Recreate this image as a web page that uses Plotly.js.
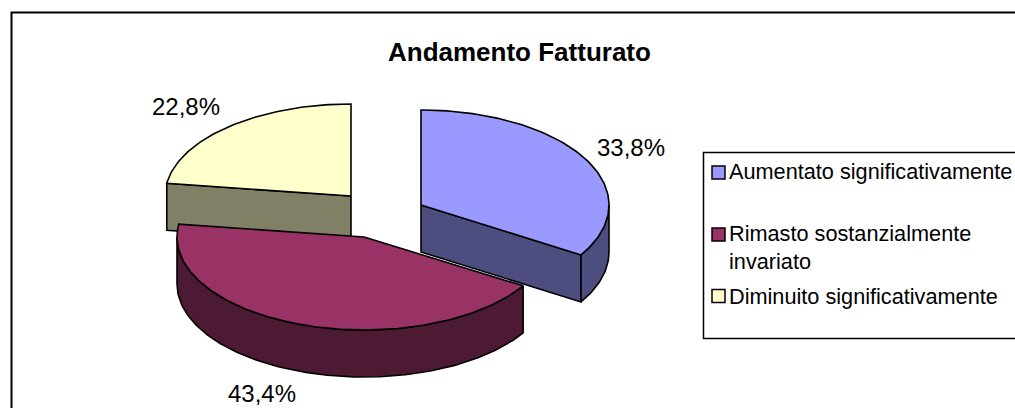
<!DOCTYPE html>
<html>
<head>
<meta charset="utf-8">
<script src="https://cdn.plot.ly/plotly-3.0.1.min.js"></script>
<style>html,body{margin:0;padding:0;background:#fff}#c{width:1015px;height:408px}</style>
</head>
<body>
<div id="c"></div>
<script>
const categories = ["Aumentato significativamente", "Rimasto sostanzialmente<br>invariato", "Diminuito significativamente"];
const values = [33.8, 43.4, 22.8];
const topColors = ["#9999FF", "#993366", "#FFFFCC"];
const sideColors = ["#4D4D80", "#4D1A33", "#808066"];
const chartTitle = "Andamento Fatturato";

const FONT = "Liberation Sans, Arial, sans-serif";
const DEPTH = 47;
// Exploded slice centres and ellipse radii, in page-pixel axis units
const geom = [
  {cx: 421, cy: 205, a: 188, b: 95, lx: 630.5, ly: 147},
  {cx: 364, cy: 237, a: 187, b: 93, lx: 262, ly: 393.5},
  {cx: 351, cy: 196, a: 186, b: 92, lx: 185.5, ly: 106}
];
const swatchY = [172.5, 234.5, 296];
const legendTextY = [171, 247.5, 296];

const total = values.reduce((s, v) => s + v, 0);
let acc = 0;
const slices = values.map((v, i) => {
  const t0 = acc / total * 2 * Math.PI;
  acc += v;
  return Object.assign({t0, t1: acc / total * 2 * Math.PI, i}, geom[i]);
});
const pt = (s, t, dy) => [s.cx + s.a * Math.sin(t), s.cy - s.b * Math.cos(t) + (dy || 0)];
function arc(s, from, to, dy) {
  const n = Math.max(2, Math.ceil(Math.abs(to - from) / 0.02));
  const out = [];
  for (let k = 0; k <= n; k++) out.push(pt(s, from + (to - from) * k / n, dy));
  return out;
}
function poly(points, fill, name) {
  return {
    type: "scatter", mode: "lines", x: points.map(p => p[0]), y: points.map(p => p[1]),
    fill: "toself", fillcolor: fill, line: {color: "#000", width: 1.6, shape: "linear"},
    hoverinfo: "skip", showlegend: false, name
  };
}
function sliceTraces(s) {
  const out = [];
  const apex = [s.cx, s.cy];
  const apexLow = [s.cx, s.cy + DEPTH];
  const side = sideColors[s.i];
  // radial cut walls facing the viewer
  [s.t0, s.t1].forEach(t => {
    const onRight = Math.sin(t) > 0;
    const facing = (t === s.t1 && onRight) || (t === s.t0 && !onRight);
    if (facing && t > 1e-6 && t < 2 * Math.PI - 1e-6) {
      const e = pt(s, t), el = pt(s, t, DEPTH);
      out.push(poly([apex, e, el, apexLow, apex], side));
    }
  });
  // curved outer wall on the front half
  const from = Math.max(s.t0, Math.PI / 2), to = Math.min(s.t1, 3 * Math.PI / 2);
  if (to > from) {
    const upper = arc(s, from, to, 0), lower = arc(s, to, from, DEPTH);
    out.push(poly(upper.concat(lower, [upper[0]]), side));
  }
  // top face
  out.push(poly([apex].concat(arc(s, s.t0, s.t1, 0), [apex]), topColors[s.i]));
  return out;
}

const order = [2, 0, 1];
const traces = [];
order.forEach(i => traces.push(...sliceTraces(slices[i])));

// Legend swatches
traces.push({
  type: "scatter", mode: "markers", x: values.map(() => 718.5), y: swatchY,
  marker: {symbol: "square", size: 13, color: topColors, line: {color: "#000", width: 1.5}},
  hoverinfo: "skip", showlegend: false
});

const annotations = [];
annotations.push({x: 519, y: 52, text: "<b>" + chartTitle + "</b>", showarrow: false, xanchor: "center", yanchor: "middle",
  font: {family: FONT, size: 26, color: "#000"}});
values.forEach((v, i) => {
  annotations.push({x: geom[i].lx, y: geom[i].ly, text: v.toFixed(1).replace(".", ",") + "%", showarrow: false,
    xanchor: "center", yanchor: "middle", font: {family: FONT, size: 24, color: "#000"}});
  annotations.push({x: 729, y: legendTextY[i], text: categories[i], showarrow: false, xanchor: "left", yanchor: "middle",
    align: "left", font: {family: FONT, size: 21.7, color: "#000"}});
});
annotations.forEach(a => { a.xref = "x"; a.yref = "y"; a.borderpad = 0; a.borderwidth = 0; });

const axis = {visible: false, fixedrange: true, showgrid: false, zeroline: false};
const layout = {
  width: 1015, height: 408, margin: {l: 0, r: 0, t: 0, b: 0},
  paper_bgcolor: "#fff", plot_bgcolor: "#fff", showlegend: false,
  xaxis: Object.assign({range: [0, 1015]}, axis),
  yaxis: Object.assign({range: [408, 0]}, axis),
  shapes: [
    {type: "path", xref: "x", yref: "y", path: "M 11.5 420 L 11.5 12.5 L 1030 12.5", line: {color: "#000", width: 2}},
    {type: "path", xref: "x", yref: "y", path: "M 1030 152.5 L 703.5 152.5 L 703.5 338.5 L 1030 338.5", line: {color: "#000", width: 1.5}}
  ],
  annotations
};
Plotly.newPlot("c", traces, layout, {displayModeBar: false, staticPlot: true});
</script>
</body>
</html>
